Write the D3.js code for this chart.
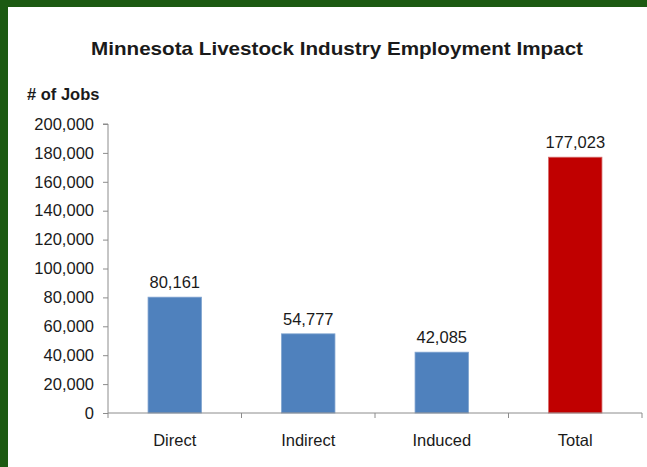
<!DOCTYPE html>
<html>
<head>
<meta charset="utf-8">
<script src="https://cdn.jsdelivr.net/npm/d3@7"></script>
<style>
  html, body { margin: 0; padding: 0; background: #1c5a12; }
  svg { display: block; }
  text { font-family: "Liberation Sans", Arial, sans-serif; fill: #1a1a1a; }
</style>
</head>
<body>
<script>
const categories = ["Direct", "Indirect", "Induced", "Total"];
const values = [80161, 54777, 42085, 177023];
const barColors = ["#4f81bd", "#4f81bd", "#4f81bd", "#c00000"];
const yTicks = [0, 20000, 40000, 60000, 80000, 100000, 120000, 140000, 160000, 180000, 200000];
const title = "Minnesota Livestock Industry Employment Impact";
const yTitle = "# of Jobs";

const W = 647, H = 467;
const svg = d3.select("body").append("svg").attr("width", W).attr("height", H);

svg.append("rect").attr("x", 0).attr("y", 0).attr("width", W).attr("height", H).attr("fill", "#1c5a12");
svg.append("rect").attr("x", 8).attr("y", 7).attr("width", W - 8).attr("height", H - 7).attr("fill", "#ffffff");

const mLeft = 108, mRight = 642, mTop = 124, mBottom = 413;

const x = d3.scaleBand().domain(categories).range([mLeft, mRight]).paddingInner(0.6).paddingOuter(0.3);
const y = d3.scaleLinear().domain([0, 200000]).range([mBottom, mTop]);

svg.append("text").attr("x", 337).attr("y", 55).attr("text-anchor", "middle")
  .style("font-weight", "bold").style("font-size", "19px").attr("textLength", 492).attr("lengthAdjust", "spacingAndGlyphs")
  .text(title);
svg.append("text").attr("x", 27).attr("y", 100)
  .style("font-weight", "bold").style("font-size", "16.5px").text(yTitle);

const yAxis = d3.axisLeft(y).tickValues(yTicks).tickFormat(d3.format(",")).tickSize(5).tickPadding(9);
const gy = svg.append("g").attr("transform", `translate(${mLeft},0)`).call(yAxis);
gy.select(".domain").attr("stroke", "#8c8c8c").attr("d", `M-5,${mTop}H0V${mBottom}`);
gy.selectAll(".tick line").attr("stroke", "#8c8c8c");
gy.selectAll(".tick text").style("font-size", "16.5px").style("font-family", "'Liberation Sans', Arial, sans-serif").attr("fill", "#1a1a1a");

svg.selectAll("rect.bar").data(categories).enter().append("rect")
  .attr("class", "bar")
  .attr("x", d => x(d))
  .attr("width", x.bandwidth())
  .attr("y", (d, i) => y(values[i]))
  .attr("height", (d, i) => y(0) - y(values[i]))
  .attr("fill", (d, i) => barColors[i])
  .attr("stroke", (d, i) => i === 3 ? "#d46a6a" : "#7fa3cf")
  .attr("stroke-width", 0.8);

svg.selectAll("text.val").data(categories).enter().append("text")
  .attr("class", "val")
  .attr("x", d => x(d) + x.bandwidth() / 2)
  .attr("y", (d, i) => y(values[i]) - 9)
  .attr("text-anchor", "middle")
  .style("font-size", "16.5px")
  .text((d, i) => d3.format(",")(values[i]));

const step = (mRight - mLeft) / categories.length;
const gx = svg.append("g").attr("transform", `translate(0,${mBottom})`);
gx.append("path").attr("d", `M${mLeft},0H${mRight}`).attr("stroke", "#8c8c8c").attr("fill", "none");
const boundaries = d3.range(categories.length + 1).map(i => mLeft + i * step);
gx.selectAll("line.bt").data(boundaries).enter().append("line")
  .attr("x1", d => d).attr("x2", d => d).attr("y1", 0).attr("y2", 5).attr("stroke", "#8c8c8c");
gx.selectAll("text.cat").data(categories).enter().append("text")
  .attr("x", d => x(d) + x.bandwidth() / 2)
  .attr("y", 33)
  .attr("text-anchor", "middle")
  .style("font-size", "16.5px")
  .text(d => d);
</script>
</body>
</html>
